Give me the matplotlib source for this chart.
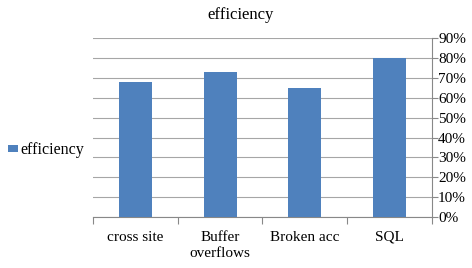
import numpy as np
import matplotlib.pyplot as plt
from matplotlib.ticker import FuncFormatter, FixedLocator

# chart data
categories = ['cross site', 'Buffer\noverflows', 'Broken acc', 'SQL']
efficiency = [0.68, 0.73, 0.65, 0.80]
yticks = [0.0, 0.1, 0.2, 0.3, 0.4, 0.5, 0.6, 0.7, 0.8, 0.9]

plt.rcParams['font.family'] = ['Liberation Serif', 'DejaVu Serif']

fig = plt.figure(figsize=(4.72, 2.68), dpi=100)
ax = fig.add_axes([0.197, 0.190, 0.718, 0.668])

x = np.arange(len(categories))
bars = ax.bar(x, efficiency, width=0.39, color='#4F81BD', zorder=3, label='efficiency')

ax.set_xlim(-0.5, len(categories) - 0.5)
ax.set_ylim(0, 0.9)

# percent axis on the right
ax.yaxis.tick_right()
ax.set_yticks(yticks)
ax.yaxis.set_major_formatter(FuncFormatter(lambda v, p: '%d%%' % round(v * 100)))
ax.tick_params(axis='y', direction='out', length=4, width=0.8, color='#888888',
               labelsize=11, pad=0.5)
ax.grid(axis='y', color='#a6a6a6', linewidth=0.8, zorder=0)

# category labels centred, tick marks on the boundaries
ax.set_xticks(x)
ax.set_xticklabels(categories)
ax.tick_params(axis='x', length=0, labelsize=11, pad=10)
ax.xaxis.set_minor_locator(FixedLocator(np.arange(-0.5, len(categories), 1.0)))
ax.tick_params(axis='x', which='minor', direction='out', length=5, width=0.8, color='#888888')
for lbl in ax.get_xticklabels():
    lbl.set_linespacing(1.3)

for pos in ['top', 'left']:
    ax.spines[pos].set_visible(False)
for pos in ['right', 'bottom']:
    ax.spines[pos].set_color('#888888')
    ax.spines[pos].set_linewidth(0.8)

fig.suptitle('efficiency', fontsize=12, x=0.51, y=0.975)

fig.legend(handles=[bars], labels=['efficiency'], loc='center left',
           bbox_to_anchor=(0.0, 0.44), frameon=False, fontsize=11.5,
           handlelength=0.6, handleheight=0.3, handletextpad=0.2, borderaxespad=0.1)

fig.savefig('out.png', dpi=100)
